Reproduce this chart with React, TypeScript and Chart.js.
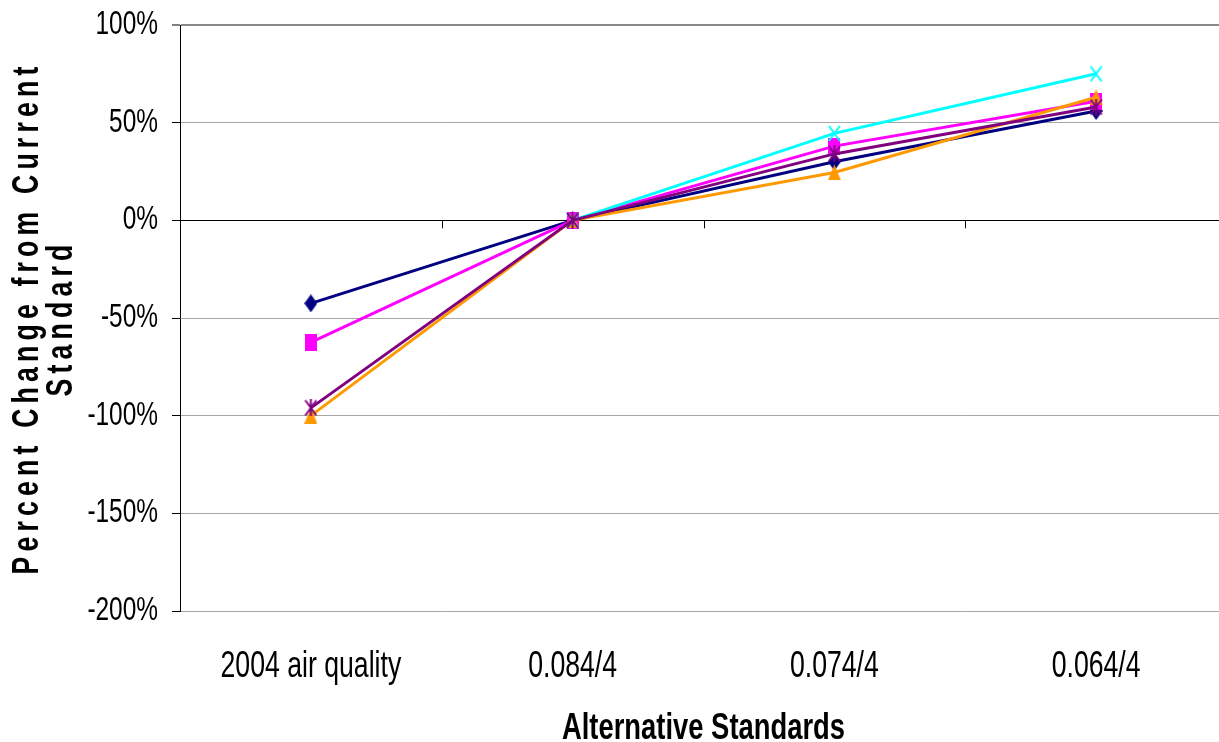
import React, { useEffect, useRef } from 'react';
import { Chart, registerables } from 'chart.js';

Chart.register(...registerables);

const categories = ['2004 air quality', '0.084/4', '0.074/4', '0.064/4'];
const seriesNavy = [-42.5, 0, 30, 56];
const seriesMagenta = [-62.5, 0, 38, 61];
const seriesOrange = [-100, 0, 24.5, 63];
const seriesCyan = [null, 0, 44.5, 75];
const seriesPurple = [-96, 0, 34, 58];
const yMin = -200;
const yMax = 100;
const yStep = 50;
const yTitleLines = ['Percent Change from Current', 'Standard'];
const xTitle = 'Alternative Standards';

const FONT = '"Liberation Sans", Arial, sans-serif';
const TEXT_SX = 0.74;

const narrowTextPlugin = {
  id: 'narrowTextPlugin',
  beforeDraw(chart: any) {
    const ctx: any = chart.ctx;
    if (ctx.__narrowPatched) return;
    const orig = ctx.fillText;
    ctx.fillText = function (text: string, x: number, y: number, maxWidth?: number) {
      this.save();
      this.translate(x, y);
      this.scale(TEXT_SX, 1);
      if (maxWidth !== undefined && maxWidth !== null) orig.call(this, text, 0, 0, maxWidth / TEXT_SX);
      else orig.call(this, text, 0, 0);
      this.restore();
    };
    ctx.__narrowPatched = true;
  },
};

const yTitlePlugin = {
  id: 'yTitlePlugin',
  afterDraw(chart: any) {
    const ctx = chart.ctx;
    const area = chart.chartArea;
    ctx.save();
    ctx.fillStyle = '#000';
    ctx.font = `bold 36px ${FONT}`;
    (ctx as any).letterSpacing = '7px';
    ctx.textAlign = 'center';
    ctx.textBaseline = 'middle';
    const cy = (area.top + area.bottom) / 2;
    const xs = [20, 54];
    yTitleLines.forEach((t, i) => {
      ctx.save();
      ctx.translate(xs[i], cy);
      ctx.rotate(-Math.PI / 2);
      ctx.fillText(t, 0, 0);
      ctx.restore();
    });
    ctx.restore();
  },
};

const zeroTicksPlugin = {
  id: 'zeroTicksPlugin',
  beforeDatasetsDraw(chart: any) {
    const ctx = chart.ctx;
    const xs = chart.scales.x;
    const y0 = chart.scales.y.getPixelForValue(0);
    ctx.save();
    ctx.strokeStyle = '#000';
    ctx.lineWidth = 1;
    ctx.beginPath();
    for (let i = 0; i <= categories.length; i++) {
      const px = Math.round(xs.getPixelForValue(i - 0.5)) + 0.5;
      ctx.moveTo(px, y0);
      ctx.lineTo(px, y0 + 8);
    }
    ctx.stroke();
    ctx.restore();
  },
};

function makeMarker(kind: string, color: string, w: number, h: number) {
  const c = document.createElement('canvas');
  c.width = w;
  c.height = h;
  const g = c.getContext('2d') as CanvasRenderingContext2D;
  g.fillStyle = color;
  g.strokeStyle = color;
  g.lineWidth = 2;
  g.lineCap = 'butt';
  g.beginPath();
  if (kind === 'diamond') {
    g.moveTo(w / 2, 0);
    g.lineTo(w, h / 2);
    g.lineTo(w / 2, h);
    g.lineTo(0, h / 2);
    g.closePath();
    g.fill();
  } else if (kind === 'square') {
    g.rect(0, 0, w, h);
    g.fill();
  } else if (kind === 'triangle') {
    g.moveTo(w / 2, 0);
    g.lineTo(w, h);
    g.lineTo(0, h);
    g.closePath();
    g.fill();
  } else if (kind === 'x' || kind === 'star') {
    g.moveTo(1, 1);
    g.lineTo(w - 1, h - 1);
    g.moveTo(w - 1, 1);
    g.lineTo(1, h - 1);
    if (kind === 'star') {
      g.moveTo(w / 2, 0);
      g.lineTo(w / 2, h);
    }
    g.stroke();
  }
  return c;
}

function ds(label: string, data: (number | null)[], color: string, marker: any, order: number) {
  return {
    label,
    data,
    borderColor: color,
    backgroundColor: color,
    pointBackgroundColor: color,
    pointBorderColor: color,
    pointStyle: marker,
    pointRadius: 8,
    borderWidth: 3,
    tension: 0,
    spanGaps: false,
    order,
  };
}

export default function App() {
  const ref = useRef<HTMLCanvasElement | null>(null);
  useEffect(() => {
    if (!ref.current) return;
    const chart = new Chart(ref.current, {
      type: 'line',
      data: {
        labels: categories,
        datasets: [
          ds('Series 1', seriesNavy, '#000080', makeMarker('diamond', '#000080', 13, 18), 5),
          ds('Series 2', seriesMagenta, '#FF00FF', makeMarker('square', '#FF00FF', 12, 17), 4),
          ds('Series 3', seriesOrange, '#FF9900', makeMarker('triangle', '#FF9900', 13, 16), 3),
          ds('Series 4', seriesCyan, '#00FFFF', makeMarker('x', '#00FFFF', 13, 17), 2),
          ds('Series 5', seriesPurple, '#800080', makeMarker('star', '#800080', 13, 17), 1),
        ] as any,
      },
      options: {
        animation: false,
        responsive: false,
        devicePixelRatio: 1,
        layout: { padding: { top: 17, right: 11, left: 0, bottom: 0 } },
        plugins: {
          legend: { display: false },
          tooltip: { enabled: false },
        },
        scales: {
          x: {
            type: 'category',
            offset: true,
            grid: { display: false, drawTicks: false },
            border: { display: false },
            ticks: {
              color: '#000',
              font: { family: FONT, size: 36 },
              padding: 34,
              maxRotation: 0,
              autoSkip: false,
            },
            title: {
              display: true,
              text: xTitle,
              color: '#000',
              font: { family: FONT, size: 37, weight: 'bold', lineHeight: 0.7 },
              padding: { top: 0, bottom: 0 },
            },
            afterFit(scale: any) {
              scale.height = 131;
              scale.paddingLeft = 0;
              scale.paddingRight = 0;
            },
          },
          y: {
            min: yMin,
            max: yMax,
            ticks: {
              stepSize: yStep,
              color: '#000',
              font: { family: FONT, size: 33 },
              padding: 14,
              callback: (v: any) => `${v}%`,
            },
            grid: {
              color: (c: any) => (c.tick && c.tick.value === 0 ? '#000000' : c.tick && c.tick.value === yMax ? '#888888' : '#a6a6a6'),
              lineWidth: (c: any) => (c.tick && c.tick.value === yMax ? 2 : 1),
              tickColor: '#000',
              tickLength: 8,
              tickWidth: 1,
            },
            border: { display: true, color: '#000', width: 1 },
            afterFit(scale: any) {
              scale.width = 172;
              scale.paddingTop = 0;
              scale.paddingBottom = 0;
            },
          },
        },
      } as any,
      plugins: [narrowTextPlugin, yTitlePlugin, zeroTicksPlugin],
    });
    return () => chart.destroy();
  }, []);

  return (
    <div style={{ position: 'absolute', left: 8, top: 8, width: 1211, height: 734, overflow: 'hidden' }}>
      <canvas ref={ref} width={1230} height={734} style={{ width: 1230, height: 734, display: 'block' }} />
    </div>
  );
}
